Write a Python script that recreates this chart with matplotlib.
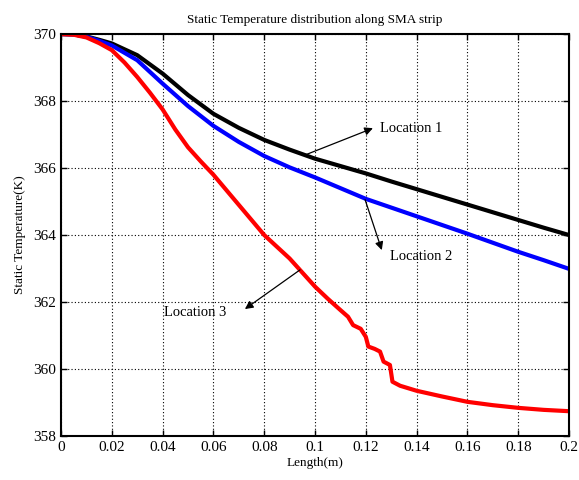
import numpy as np
from matplotlib import pyplot as plt

# datos
x_loc1 = [0, 0.005, 0.01, 0.015, 0.02, 0.03, 0.04, 0.05, 0.06, 0.07, 0.08, 0.09, 0.1,
          0.11, 0.12, 0.13, 0.14, 0.15, 0.16, 0.17, 0.18, 0.19, 0.2]
t_loc1 = [370, 369.99, 369.93, 369.83, 369.72, 369.37, 368.82, 368.18, 367.62, 367.2, 366.84,
          366.55, 366.28, 366.06, 365.84, 365.6, 365.37, 365.14, 364.91, 364.68, 364.45, 364.22, 364.0]

x_loc2 = x_loc1
t_loc2 = [370, 369.99, 369.92, 369.8, 369.66, 369.22, 368.52, 367.85, 367.26, 366.78, 366.36,
          366.02, 365.72, 365.4, 365.08, 364.82, 364.56, 364.3, 364.04, 363.77, 363.5, 363.25, 362.99]

x_loc3 = [0, 0.005, 0.01, 0.015, 0.02, 0.025, 0.03, 0.035, 0.04, 0.045, 0.05, 0.055, 0.06,
          0.07, 0.08, 0.09, 0.1, 0.105, 0.11, 0.113, 0.115, 0.118, 0.12, 0.121, 0.1235, 0.1256,
          0.127, 0.1295, 0.1305, 0.1335, 0.14, 0.15, 0.16, 0.17, 0.18, 0.19, 0.2]
t_loc3 = [370, 369.98, 369.9, 369.73, 369.52, 369.15, 368.72, 368.25, 367.75, 367.15, 366.62,
          366.2, 365.8, 364.9, 364.0, 363.3, 362.46, 362.1, 361.76, 361.56, 361.31, 361.2,
          360.96, 360.67, 360.6, 360.52, 360.22, 360.12, 359.62, 359.5, 359.35, 359.18, 359.02,
          358.92, 358.84, 358.78, 358.74]

plt.rcParams['font.family'] = ['Liberation Serif', 'DejaVu Serif']

fig = plt.figure(figsize=(5.79, 4.80), dpi=100)
ax = fig.add_axes([0.1054, 0.0917, 0.8773, 0.8373])

ax.plot(x_loc1, t_loc1, color='black', lw=3, solid_capstyle='round')
ax.plot(x_loc2, t_loc2, color='blue', lw=3, solid_capstyle='round')
ax.plot(x_loc3, t_loc3, color='red', lw=3, solid_capstyle='round')

ax.set_xlim(0, 0.2)
ax.set_ylim(358, 370)
ax.set_xticks(np.arange(0, 0.201, 0.02))
ax.set_xticklabels(['0', '0.02', '0.04', '0.06', '0.08', '0.1', '0.12', '0.14', '0.16', '0.18', '0.2'])
ax.set_yticks(np.arange(358, 371, 2))
ax.tick_params(direction='in', top=True, right=True, labelsize=11, length=4, width=1)
for s in ax.spines.values():
    s.set_linewidth(1.5)
ax.grid(True, color='black', linestyle=(0, (1, 2)), lw=0.8)

ax.set_title('Static Temperature distribution along SMA strip', fontsize=9.5, pad=8)
ax.set_xlabel('Length(m)', fontsize=9.5, labelpad=2)
ax.set_ylabel('Static Temperature(K)', fontsize=9.5, labelpad=5)

flecha = dict(arrowstyle='-|>', color='black', lw=0.9, mutation_scale=12, shrinkA=0, shrinkB=0)
ax.annotate('', xy=(0.1228, 367.19), xytext=(0.0961, 366.39), arrowprops=flecha)
ax.text(0.1256, 367.19, 'Location 1', fontsize=10.5, va='center', ha='left')
ax.annotate('', xy=(0.1263, 363.55), xytext=(0.1197, 365.06), arrowprops=flecha)
ax.text(0.1295, 363.37, 'Location 2', fontsize=10.5, va='center', ha='left')
ax.annotate('', xy=(0.0724, 361.79), xytext=(0.0941, 362.96), arrowprops=flecha)
ax.text(0.0406, 361.70, 'Location 3', fontsize=10.5, va='center', ha='left')

plt.savefig('out.png', dpi=100)
